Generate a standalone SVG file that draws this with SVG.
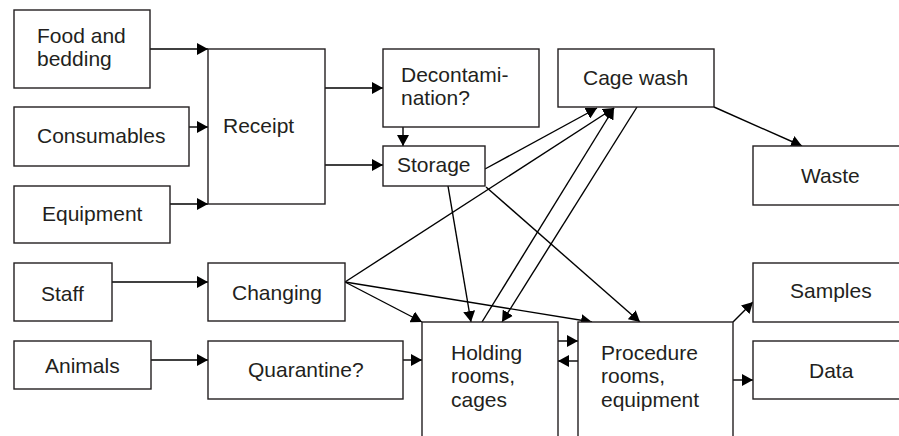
<svg xmlns="http://www.w3.org/2000/svg" width="899" height="436" viewBox="0 0 899 436">
<style>
.b{fill:#fff;stroke:#231f20;stroke-width:1.4}
.t{font-family:"Liberation Sans",Arial,sans-serif;font-size:21px;fill:#231f20}
.c{stroke:#000;stroke-width:1.4;fill:none;marker-end:url(#ah)}
.n{stroke:#000;stroke-width:1.4;fill:none}
</style>
<defs>
<marker id="ah" markerUnits="userSpaceOnUse" markerWidth="12" markerHeight="12" refX="11" refY="6" orient="auto">
<path d="M0,0 L11,6 L0,12 z" fill="#000"/>
</marker>
</defs>
<rect width="899" height="436" fill="#fff"/>
<g id="connectors">
<line class="c" x1="150" y1="49" x2="208" y2="49"/>
<line class="c" x1="189" y1="127" x2="208" y2="127"/>
<line class="c" x1="170" y1="204" x2="208" y2="204"/>
<line class="c" x1="325" y1="88" x2="383" y2="88"/>
<line class="c" x1="325" y1="165" x2="383" y2="165"/>
<line class="c" x1="403" y1="127" x2="403" y2="146"/>
<line class="c" x1="714" y1="107" x2="802" y2="146"/>
<line class="c" x1="112" y1="282" x2="208" y2="282"/>
<line class="c" x1="151" y1="360" x2="208" y2="360"/>
<line class="c" x1="403" y1="360" x2="422" y2="360"/>
<line class="c" x1="485" y1="169" x2="597" y2="108"/>
<line class="c" x1="345" y1="282" x2="614" y2="108"/>
<line class="c" x1="482" y1="322" x2="614" y2="108"/>
<line class="c" x1="637" y1="107" x2="502" y2="322"/>
<line class="c" x1="448" y1="186" x2="471" y2="322"/>
<line class="c" x1="486" y1="187" x2="640" y2="322"/>
<line class="c" x1="345" y1="282" x2="422" y2="322"/>
<line class="c" x1="345" y1="282" x2="592" y2="322"/>
<line class="c" x1="558" y1="341" x2="578" y2="341"/>
<line class="c" x1="578" y1="361" x2="558" y2="361"/>
<line class="c" x1="733" y1="322" x2="753" y2="302"/>
<line class="c" x1="733" y1="380" x2="753" y2="380"/>
</g>
<g id="food"><rect class="b" x="14" y="10" width="136" height="78"/><text class="t" x="37" y="43">Food and</text><text class="t" x="37" y="66">bedding</text></g>
<g id="consumables"><rect class="b" x="14" y="107" width="175" height="59"/><text class="t" x="37" y="143">Consumables</text></g>
<g id="equipment"><rect class="b" x="14" y="186" width="156" height="57"/><text class="t" x="42" y="221">Equipment</text></g>
<g id="receipt"><rect class="b" x="208" y="49" width="117" height="155"/><text class="t" x="223" y="133">Receipt</text></g>
<g id="decon"><rect class="b" x="383" y="49" width="156" height="78"/><text class="t" x="401" y="82">Decontami-</text><text class="t" x="401" y="105">nation?</text></g>
<g id="storage"><rect class="b" x="383" y="146" width="102" height="40"/><text class="t" x="397" y="172">Storage</text></g>
<g id="cagewash"><rect class="b" x="558" y="49" width="156" height="58"/><text class="t" x="583" y="85">Cage wash</text></g>
<g id="waste"><rect class="b" x="753" y="146" width="152" height="59"/><text class="t" x="801" y="183">Waste</text></g>
<g id="staff"><rect class="b" x="14" y="263" width="98" height="58"/><text class="t" x="41" y="301">Staff</text></g>
<g id="changing"><rect class="b" x="208" y="263" width="137" height="58"/><text class="t" x="232" y="300">Changing</text></g>
<g id="animals"><rect class="b" x="14" y="341" width="137" height="48"/><text class="t" x="45" y="373">Animals</text></g>
<g id="quarantine"><rect class="b" x="208" y="341" width="195" height="58"/><text class="t" x="248" y="377">Quarantine?</text></g>
<g id="holding"><rect class="b" x="422" y="322" width="136" height="130"/><text class="t" x="451" y="360">Holding</text><text class="t" x="451" y="383">rooms,</text><text class="t" x="451" y="407">cages</text></g>
<g id="procedure"><rect class="b" x="578" y="322" width="155" height="130"/><text class="t" x="601" y="360">Procedure</text><text class="t" x="601" y="383">rooms,</text><text class="t" x="601" y="407">equipment</text></g>
<g id="samples"><rect class="b" x="753" y="263" width="152" height="59"/><text class="t" x="790" y="298">Samples</text></g>
<g id="data"><rect class="b" x="753" y="341" width="152" height="58"/><text class="t" x="809" y="378">Data</text></g>
</svg>
